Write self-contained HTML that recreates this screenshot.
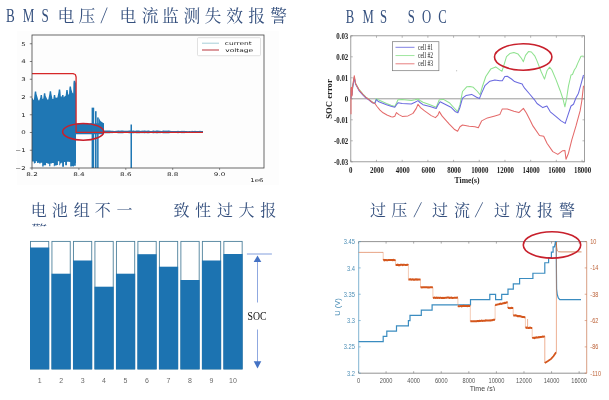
<!DOCTYPE html>
<html lang="zh-CN"><head><meta charset="utf-8"><title>BMS</title>
<style>
html,body{margin:0;padding:0;background:#fff;}
body{width:609px;height:400px;overflow:hidden;position:relative;}
svg{position:absolute;left:0;top:0;display:block;}
.tt{font-family:"Liberation Serif","Noto Serif CJK SC",serif;font-weight:400;fill:#35507e;}
.mp{font-family:"DejaVu Sans","Liberation Sans",sans-serif;fill:#1a1a1a;}
.ml{font-family:"Liberation Serif",serif;font-weight:bold;fill:#222;}
.ar{font-family:"Liberation Sans",sans-serif;}
#ch1,#ch2,#ch4{filter:blur(0.35px);}
#ch3{filter:blur(0.25px);}
</style></head><body>
<svg width="609" height="400" viewBox="0 0 609 400">

<g><text class="tt" font-size="16.8" transform="translate(0,22.1) scale(0.78,1.12)" x="7.69 29.23 53.08">BMS</text><text class="tt" font-size="16.8" y="22.1" x="57.6 78.6">电压</text><text class="tt" font-size="16.8" transform="translate(100.5,23) skewX(-9) scale(1,1.4)">/</text><text class="tt" font-size="16.8" y="22.1" x="119.4 141.8 162 183.5 204.6 226.2 248.3 270.2">电流监测失效报警</text></g>
<g><text class="tt" font-size="16.3" transform="translate(0,23) scale(0.78,1.12)" x="443.33 464.87 487.18 506.41 522.82 541.03 561.92">BMS SOC</text></g>
<g><text class="tt" font-size="16" y="216.2" x="30.7 51.8 73.7 94.8 116.4 173.6 195 217 238.4 260.2">电池组不一致性过大报</text></g>
<g><text class="tt" font-size="16" y="216.2" x="370 391.3">过压</text><text class="tt" font-size="16" transform="translate(413.6,217.1) skewX(-15) scale(1,1.4)">/</text><text class="tt" font-size="16" y="216.2" x="432 454">过流</text><text class="tt" font-size="16" transform="translate(474.8,217.1) skewX(-15) scale(1,1.4)">/</text><text class="tt" font-size="16" y="216.2" x="494 515.2 536.9 559">过放报警</text></g>
<clipPath id="c3"><rect x="28" y="223.4" width="24" height="2.9"/></clipPath>
<g clip-path="url(#c3)"><text class="tt" font-size="16" x="31.2" y="236.8">警</text></g>
<g id="ch1">
<rect x="17" y="31" width="262" height="154" fill="#fdfdfd"/>
<polygon fill="#1f77b4" points="32,98.2 31.6,97.94 32.4,98.08 33.1,99.48 33.9,99.94 34.5,94.1 34.8,91.6 36.2,91.6 36.5,94.1 38.4,100.27 39.2,100.41 40.3,97.4 40.6,94.9 42,94.9 42.3,97.4 42.5,98.95 43.3,98.59 43.6,95.7 43.9,93.2 45.3,93.2 45.6,95.7 47.5,99.87 48.3,99.55 49.4,93.7 49.7,91.2 51.1,91.2 51.4,93.7 52.5,98.94 53.3,98.93 53.5,97.4 53.8,94.9 55.2,94.9 55.5,97.4 56.6,97.86 57.4,97.54 58.5,92.1 58.8,89.6 60.2,89.6 60.5,92.1 60.8,96.4 61.6,96.32 61.8,97.4 62.1,94.9 63.5,94.9 63.8,97.4 64.9,96 65.7,95.74 66,92.4 66.3,89.9 67.7,89.9 68,92.4 68.2,94.44 69,94.58 69.3,89.1 69.6,86.6 71,86.6 71.3,89.1 72.4,92.72 73.2,93.46 73.4,83.3 73.7,80.8 75.1,80.8 75.4,83.3 76,80.5 76,166 76,162.9 75.8,162.9 75.8,165.78 73.95,165.78 73.95,166.56 73.09,166.56 73.09,166.35 71.67,166.35 71.67,166.38 70.19,166.38 70.19,162.11 69.38,162.11 69.38,161.79 68,161.79 68,161.7 66.99,161.7 66.99,165.3 65.13,165.3 65.13,162.08 64,162.08 64,166.73 62.14,166.73 62.14,162.65 61.24,162.65 61.24,163.61 60.14,163.61 60.14,165.26 59.27,165.26 59.27,161.35 57.92,161.35 57.92,165.05 56.65,165.05 56.65,165.57 54.66,165.57 54.66,166.29 53.79,166.29 53.79,162.99 51.86,162.99 51.86,163.52 50.36,163.52 50.36,166.19 49.18,166.19 49.18,163.63 47.47,163.63 47.47,163 46.08,163 46.08,165.3 44.78,165.3 44.78,165.24 43.63,165.24 43.63,166.46 42.2,166.46 42.2,162.72 40.56,162.72 40.56,163.38 39.22,163.38 39.22,162.76 37.91,162.76 37.91,163.04 37.04,163.04 37.04,161.19 35.79,161.19 35.79,162.92 34.77,162.92 34.77,163.45 33.83,163.45 33.83,161.43 32,161.43"/>
<polygon fill="#1f77b4" points="76,132.5 76,123.56 77,123.55 78,123.4 79,123.45 80,123.26 81,123.57 82,123.62 83,123.46 84,123.52 85,123.24 86,123.6 87,122.69 88,123.55 89,123.44 90,123.56 91,123.1 92,123.37 93,123.57 94,123.48 95,123.54 96,123.12 97,123.55 98,123.61 99,123.1 100,123.25 101,123.43 102,123.21 103,123.21 104,123.27 104,124.51 104,134.28 76,134.28"/>
<rect x="91.6" y="107.65" width="2.6" height="60.35" fill="#1f77b4"/>
<rect x="95" y="111.2" width="1.6" height="56.8" fill="#1f77b4"/>
<rect x="97.1" y="117.41" width="1.5" height="50.59" fill="#1f77b4"/>
<polygon fill="#1f77b4" points="98.6,117.41 100.5,120.96 104,123.62 104,132.5 98.6,132.5"/>
<rect x="130.5" y="124.51" width="1.5" height="43.49" fill="#1f77b4"/>
<polygon fill="#1f77b4" points="104,130.85 105,130.49 106,130.38 107,130.46 108,130.49 109,130.48 110,130.53 111,130.85 112,130.67 113,130.77 114,130.97 115,130.97 116,130.82 117,130.83 118,130.56 119,130.4 120,130.71 121,130.41 122,130.38 123,130.4 124,130.76 125,130.85 126,130.85 127,130.87 128,130.86 129,130.6 130,130.43 131,130.47 132,130.69 133,130.59 134,130.49 135,130.94 136,130.58 137,130.43 138,130.51 139,130.53 140,130.69 141,130.88 142,130.5 143,130.78 144,130.49 145,130.39 146,130.75 147,130.74 148,130.4 149,130.54 150,130.89 151,130.91 152,130.9 153,130.43 154,130.49 155,130.9 156,130.48 157,130.38 158,130.58 159,130.77 160,130.65 161,130.91 162,130.98 163,130.39 164,130.59 165,130.66 166,130.41 167,130.72 168,130.45 169,130.48 170,130.86 171,131.04 172,131.02 173,131.05 174,130.88 175,131.04 176,130.96 177,131.1 178,130.72 179,130.99 180,130.94 181,130.88 182,130.72 183,130.96 184,130.71 185,130.92 186,130.9 187,130.91 188,131.16 189,130.95 190,131.08 191,131.17 192,130.77 193,131.08 194,130.93 195,130.81 196,130.89 197,131.01 198,130.91 199,130.89 200,130.78 201,131.12 202,130.89 203,131.05 203,132.96 202,133.04 201,132.92 200,133.1 199,133.04 198,133.03 197,132.98 196,133.04 195,133.09 194,133.02 193,132.94 192,133.11 191,132.89 190,132.94 189,133.01 188,132.9 187,133.03 186,133.04 185,133.03 184,133.14 183,133.01 182,133.14 181,133.05 180,133.02 179,132.99 178,133.14 177,132.93 176,133.01 175,132.96 174,133.05 173,132.96 172,132.97 171,132.96 170,133.06 169,133.27 168,133.29 167,133.14 166,133.31 165,133.17 164,133.21 163,133.32 162,132.99 161,133.03 160,133.18 159,133.11 158,133.21 157,133.32 156,133.27 155,133.04 154,133.26 153,133.3 152,133.04 151,133.03 150,133.05 149,133.24 148,133.31 147,133.13 146,133.12 145,133.32 144,133.26 143,133.1 142,133.26 141,133.05 140,133.15 139,133.24 138,133.26 137,133.3 136,133.21 135,133.02 134,133.26 133,133.21 132,133.15 131,133.28 130,133.3 129,133.2 128,133.06 127,133.06 126,133.07 125,133.06 124,133.11 123,133.31 122,133.33 121,133.31 120,133.14 119,133.31 118,133.22 117,133.08 116,133.08 115,133 114,133 113,133.11 112,133.16 111,133.07 110,133.24 109,133.27 108,133.26 107,133.28 106,133.32 105,133.27 104,133.06"/>
<polyline fill="none" stroke="#d62728" stroke-width="1.3" stroke-linejoin="round" points="32,73.6 73,73.6 75.3,74.5 76.1,77 76.1,132.4 203,132.4"/>
<rect x="32" y="35" width="232" height="133" fill="none" stroke="#444" stroke-width="0.8"/>
<line x1="29.8" x2="32" y1="168" y2="168" stroke="#333" stroke-width="0.6"/>
<text class="mp" font-size="5" text-anchor="end" transform="translate(25.6,169.8) scale(1.4,1)">−2</text>
<line x1="29.8" x2="32" y1="150.25" y2="150.25" stroke="#333" stroke-width="0.6"/>
<text class="mp" font-size="5" text-anchor="end" transform="translate(25.6,152.05) scale(1.4,1)">−1</text>
<line x1="29.8" x2="32" y1="132.5" y2="132.5" stroke="#333" stroke-width="0.6"/>
<text class="mp" font-size="5" text-anchor="end" transform="translate(25.6,134.3) scale(1.4,1)">0</text>
<line x1="29.8" x2="32" y1="114.75" y2="114.75" stroke="#333" stroke-width="0.6"/>
<text class="mp" font-size="5" text-anchor="end" transform="translate(25.6,116.55) scale(1.4,1)">1</text>
<line x1="29.8" x2="32" y1="97" y2="97" stroke="#333" stroke-width="0.6"/>
<text class="mp" font-size="5" text-anchor="end" transform="translate(25.6,98.8) scale(1.4,1)">2</text>
<line x1="29.8" x2="32" y1="79.25" y2="79.25" stroke="#333" stroke-width="0.6"/>
<text class="mp" font-size="5" text-anchor="end" transform="translate(25.6,81.05) scale(1.4,1)">3</text>
<line x1="29.8" x2="32" y1="61.5" y2="61.5" stroke="#333" stroke-width="0.6"/>
<text class="mp" font-size="5" text-anchor="end" transform="translate(25.6,63.3) scale(1.4,1)">4</text>
<line x1="29.8" x2="32" y1="43.75" y2="43.75" stroke="#333" stroke-width="0.6"/>
<text class="mp" font-size="5" text-anchor="end" transform="translate(25.6,45.55) scale(1.4,1)">5</text>
<line x1="32" x2="32" y1="168" y2="170" stroke="#444" stroke-width="0.6"/>
<text class="mp" font-size="5" text-anchor="middle" transform="translate(32,175.8) scale(1.45,1)">8.2</text>
<line x1="78.9" x2="78.9" y1="168" y2="170" stroke="#444" stroke-width="0.6"/>
<text class="mp" font-size="5" text-anchor="middle" transform="translate(78.9,175.8) scale(1.45,1)">8.4</text>
<line x1="125.8" x2="125.8" y1="168" y2="170" stroke="#444" stroke-width="0.6"/>
<text class="mp" font-size="5" text-anchor="middle" transform="translate(125.8,175.8) scale(1.45,1)">8.6</text>
<line x1="172.7" x2="172.7" y1="168" y2="170" stroke="#444" stroke-width="0.6"/>
<text class="mp" font-size="5" text-anchor="middle" transform="translate(172.7,175.8) scale(1.45,1)">8.8</text>
<line x1="219.6" x2="219.6" y1="168" y2="170" stroke="#444" stroke-width="0.6"/>
<text class="mp" font-size="5" text-anchor="middle" transform="translate(219.6,175.8) scale(1.45,1)">9.0</text>
<text class="mp" font-size="5" text-anchor="end" transform="translate(263.5,181.8) scale(1.4,1)">1e6</text>
<rect x="197.5" y="37.7" width="63" height="18" rx="1" fill="#fff" stroke="#ccc" stroke-width="0.6"/>
<line x1="202" x2="219" y1="43.2" y2="43.2" stroke="#7fb9c9" stroke-width="0.7"/>
<line x1="202" x2="219" y1="50" y2="50" stroke="#c0474f" stroke-width="1.1"/>
<text class="mp" font-size="5" transform="translate(224.8,45) scale(1.5,1)">current</text>
<text class="mp" font-size="5" transform="translate(225.2,51.9) scale(1.5,1)">voltage</text>
<ellipse cx="83.2" cy="131.8" rx="20.6" ry="8.4" fill="none" stroke="#c8202c" stroke-width="1.5"/>
</g>
<g id="ch2">
<rect x="350.8" y="35.8" width="233.7" height="126.00000000000001" fill="#fff" stroke="#888" stroke-width="0.8"/>
<line x1="350.8" x2="584.5" y1="98.8" y2="98.8" stroke="#555" stroke-width="0.6"/>
<line x1="350.8" x2="350.8" y1="161.8" y2="159.8" stroke="#888" stroke-width="0.6"/>
<line x1="350.8" x2="350.8" y1="35.8" y2="37.8" stroke="#888" stroke-width="0.6"/>
<text class="ml" font-size="8" text-anchor="middle" transform="translate(350.8,172.6) scale(0.86,1)">0</text>
<line x1="376.49" x2="376.49" y1="161.8" y2="159.8" stroke="#888" stroke-width="0.6"/>
<line x1="376.49" x2="376.49" y1="35.8" y2="37.8" stroke="#888" stroke-width="0.6"/>
<text class="ml" font-size="8" text-anchor="middle" transform="translate(376.99,172.6) scale(0.86,1)">2000</text>
<line x1="402.19" x2="402.19" y1="161.8" y2="159.8" stroke="#888" stroke-width="0.6"/>
<line x1="402.19" x2="402.19" y1="35.8" y2="37.8" stroke="#888" stroke-width="0.6"/>
<text class="ml" font-size="8" text-anchor="middle" transform="translate(402.69,172.6) scale(0.86,1)">4000</text>
<line x1="427.88" x2="427.88" y1="161.8" y2="159.8" stroke="#888" stroke-width="0.6"/>
<line x1="427.88" x2="427.88" y1="35.8" y2="37.8" stroke="#888" stroke-width="0.6"/>
<text class="ml" font-size="8" text-anchor="middle" transform="translate(428.38,172.6) scale(0.86,1)">6000</text>
<line x1="453.58" x2="453.58" y1="161.8" y2="159.8" stroke="#888" stroke-width="0.6"/>
<line x1="453.58" x2="453.58" y1="35.8" y2="37.8" stroke="#888" stroke-width="0.6"/>
<text class="ml" font-size="8" text-anchor="middle" transform="translate(454.08,172.6) scale(0.86,1)">8000</text>
<line x1="479.27" x2="479.27" y1="161.8" y2="159.8" stroke="#888" stroke-width="0.6"/>
<line x1="479.27" x2="479.27" y1="35.8" y2="37.8" stroke="#888" stroke-width="0.6"/>
<text class="ml" font-size="8" text-anchor="middle" transform="translate(479.77,172.6) scale(0.86,1)">10000</text>
<line x1="504.96" x2="504.96" y1="161.8" y2="159.8" stroke="#888" stroke-width="0.6"/>
<line x1="504.96" x2="504.96" y1="35.8" y2="37.8" stroke="#888" stroke-width="0.6"/>
<text class="ml" font-size="8" text-anchor="middle" transform="translate(505.46,172.6) scale(0.86,1)">12000</text>
<line x1="530.66" x2="530.66" y1="161.8" y2="159.8" stroke="#888" stroke-width="0.6"/>
<line x1="530.66" x2="530.66" y1="35.8" y2="37.8" stroke="#888" stroke-width="0.6"/>
<text class="ml" font-size="8" text-anchor="middle" transform="translate(531.16,172.6) scale(0.86,1)">14000</text>
<line x1="556.35" x2="556.35" y1="161.8" y2="159.8" stroke="#888" stroke-width="0.6"/>
<line x1="556.35" x2="556.35" y1="35.8" y2="37.8" stroke="#888" stroke-width="0.6"/>
<text class="ml" font-size="8" text-anchor="middle" transform="translate(556.85,172.6) scale(0.86,1)">16000</text>
<line x1="582.05" x2="582.05" y1="161.8" y2="159.8" stroke="#888" stroke-width="0.6"/>
<line x1="582.05" x2="582.05" y1="35.8" y2="37.8" stroke="#888" stroke-width="0.6"/>
<text class="ml" font-size="8" text-anchor="middle" transform="translate(582.55,172.6) scale(0.86,1)">18000</text>
<line x1="350.8" x2="352.8" y1="161.8" y2="161.8" stroke="#888" stroke-width="0.6"/>
<line x1="584.5" x2="582.5" y1="161.8" y2="161.8" stroke="#888" stroke-width="0.6"/>
<text class="ml" font-size="8" text-anchor="end" transform="translate(348.3,164.5) scale(0.86,1)">-0.03</text>
<line x1="350.8" x2="352.8" y1="140.8" y2="140.8" stroke="#888" stroke-width="0.6"/>
<line x1="584.5" x2="582.5" y1="140.8" y2="140.8" stroke="#888" stroke-width="0.6"/>
<text class="ml" font-size="8" text-anchor="end" transform="translate(348.3,143.5) scale(0.86,1)">-0.02</text>
<line x1="350.8" x2="352.8" y1="119.8" y2="119.8" stroke="#888" stroke-width="0.6"/>
<line x1="584.5" x2="582.5" y1="119.8" y2="119.8" stroke="#888" stroke-width="0.6"/>
<text class="ml" font-size="8" text-anchor="end" transform="translate(348.3,122.5) scale(0.86,1)">-0.01</text>
<line x1="350.8" x2="352.8" y1="98.8" y2="98.8" stroke="#888" stroke-width="0.6"/>
<line x1="584.5" x2="582.5" y1="98.8" y2="98.8" stroke="#888" stroke-width="0.6"/>
<text class="ml" font-size="8" text-anchor="end" transform="translate(348.3,101.5) scale(0.86,1)">0</text>
<line x1="350.8" x2="352.8" y1="77.8" y2="77.8" stroke="#888" stroke-width="0.6"/>
<line x1="584.5" x2="582.5" y1="77.8" y2="77.8" stroke="#888" stroke-width="0.6"/>
<text class="ml" font-size="8" text-anchor="end" transform="translate(348.3,80.5) scale(0.86,1)">0.01</text>
<line x1="350.8" x2="352.8" y1="56.8" y2="56.8" stroke="#888" stroke-width="0.6"/>
<line x1="584.5" x2="582.5" y1="56.8" y2="56.8" stroke="#888" stroke-width="0.6"/>
<text class="ml" font-size="8" text-anchor="end" transform="translate(348.3,59.5) scale(0.86,1)">0.02</text>
<line x1="350.8" x2="352.8" y1="35.8" y2="35.8" stroke="#888" stroke-width="0.6"/>
<line x1="584.5" x2="582.5" y1="35.8" y2="35.8" stroke="#888" stroke-width="0.6"/>
<text class="ml" font-size="8" text-anchor="end" transform="translate(348.3,38.5) scale(0.86,1)">0.03</text>
<text class="ml" font-size="8.5" text-anchor="middle" transform="translate(467,183.3) scale(0.9,1)">Time(s)</text>
<text class="ml" font-size="8.5" text-anchor="middle" transform="translate(331.6,99) rotate(-90) scale(1.02,1)">SOC error</text>
<polyline fill="none" stroke="#8fe28f" stroke-width="1.05" stroke-linejoin="round" points="351,98.8 351.3,90 352,95 352.6,88 354.3,77 355.5,83 359,89.4 363,94.1 366,97.1 368.1,98.6 371.5,101.4 373,102.4 374.9,102.8 376.2,98.6 378.2,99.8 386.5,103.4 391,105.2 394.8,106.4 396.5,103 398,99.8 402.2,99.4 411.3,100.6 415,99.8 418,98.9 420,100.5 423,102.2 430,104.8 436.2,107.2 438,103 439.3,99.8 443.5,99.4 449.3,102.7 454.2,108 457.6,111.7 460,104.7 462.5,91.5 466.7,86.8 470,86.5 473.3,87.3 477.5,91.5 480,94.8 482.4,86.5 485.8,76.5 490.7,69.1 495.7,66.9 499.8,69.9 502,71.2 504,64.9 506.5,56.6 509.8,53.6 513.9,52.5 518.1,54.1 521.4,58.3 523.4,61.7 525.5,55.3 528.5,51.6 531.4,52 534.7,55.8 537,60.9 541.2,71.7 544.5,79.1 547,70.8 549.5,67.2 551.9,70 556.1,79.9 560.2,90.7 563,99 564.9,106.8 566.5,99 568.5,85.8 571,75 572.5,74.5 574.3,70 576,67.5 577.7,63.4 581,56.2 583.5,55.9"/>
<polyline fill="none" stroke="#6a6adf" stroke-width="1.05" stroke-linejoin="round" points="351,98.8 351.3,90 352,95 352.6,88 354.3,77.5 355.5,84 359,90.6 363,95.2 366,98 368.1,99.4 371.5,102 373,103 374.9,103.4 376.4,99.5 378.2,101.5 386.5,104.7 391,106.3 394.8,107.2 396.5,104.8 398,102.7 402.2,103.4 411.3,103.9 415,102.2 418,100.6 420,102.5 423,104.7 430,106.5 436.2,108.4 438,105 440.1,101.7 446,104.7 450.9,107.2 455.1,111.4 457.9,112.7 460,107.2 462.5,98.1 465.9,95.6 471.7,94.4 476.6,97.3 479.4,98.6 481.6,93.1 484.9,85.7 489.9,81.2 494.9,79.9 499.8,80.7 502.3,80.7 504.8,76.5 507.3,76.2 511.5,79 514.6,81.6 517.3,82.5 522.2,84.1 523.2,86 524.6,88.2 529.6,94 534.5,99.8 537,103.5 542.8,107.6 546.9,106 550.3,111.8 556.1,116.7 561.1,120.9 565.2,123.4 567.7,115.9 571,106 573.5,104.3 576,97.7 578.5,93.2 581,84.1 583.5,75"/>
<polyline fill="none" stroke="#e46a6a" stroke-width="1.05" stroke-linejoin="round" points="351,114.2 351,88 351.6,87.3 352,96 352.6,86 354.3,75.7 355.5,83.5 359,89.8 363,94.5 366,97.5 368.1,98.9 371.5,101.7 373,102.7 374.7,103.3 377,106.5 380,110.1 383.1,112.8 387,115 391.2,116.7 392.8,117 394.8,116.2 396.4,112.6 398.9,114.6 402.2,116.4 408,115.9 413,113.4 416.3,108.4 418,104.3 420.5,107.6 424.6,110.9 431.2,115.6 435.4,117.6 437.9,115.1 439.3,111.6 442,115.9 443.5,117.6 449.3,124.2 454.2,129.2 457.6,131.2 460,126.7 462.5,125 469.2,126.2 475,126.7 478.3,127.8 481.6,120.9 487.4,117.9 494.9,115.9 499.8,114.6 502.3,108.9 507.3,108.9 513.9,111.3 518.9,112.6 523.4,108.4 526.4,113 530.5,120.9 532.9,125.9 539.5,135.5 543.7,136.3 547,143.3 552.8,151.6 557.8,154.4 562.7,150.7 564.9,150.4 566,159.3 568.5,153.2 571.8,139.9 576,125.9 580.1,110.9 581.8,101 583.5,85.8"/>
<rect x="392.6" y="41.7" width="46.3" height="29" fill="#fff" stroke="#777" stroke-width="0.7"/>
<line x1="395.5" x2="414.5" y1="47.3" y2="47.3" stroke="#6a6adf" stroke-width="1" opacity="0.85"/>
<text font-family="Liberation Serif,serif" font-size="7.4" fill="#222" transform="translate(418,49.5) scale(0.75,1)">cell #1</text>
<line x1="395.5" x2="414.5" y1="55.55" y2="55.55" stroke="#8fe28f" stroke-width="1" opacity="0.85"/>
<text font-family="Liberation Serif,serif" font-size="7.4" fill="#222" transform="translate(418,57.75) scale(0.75,1)">cell #2</text>
<line x1="395.5" x2="414.5" y1="63.8" y2="63.8" stroke="#e46a6a" stroke-width="1" opacity="0.85"/>
<text font-family="Liberation Serif,serif" font-size="7.4" fill="#222" transform="translate(418,66) scale(0.75,1)">cell #3</text>
<circle cx="456.7" cy="70.7" r="0.5" fill="#999"/>
<ellipse cx="523.2" cy="57" rx="28.7" ry="13.2" fill="none" stroke="#c8202c" stroke-width="1.6"/>
</g>
<g id="ch3">
<rect x="30.45" y="241.4" width="18.3" height="127.6" fill="#fff" stroke="#4d809c" stroke-width="0.9"/>
<rect x="30" y="247.5" width="19.2" height="121.8" fill="#1c73b1"/>
<text class="ar" font-size="7" fill="#6a6a6a" text-anchor="middle" x="39.6" y="382.7">1</text>
<rect x="51.94" y="241.4" width="18.3" height="127.6" fill="#fff" stroke="#4d809c" stroke-width="0.9"/>
<rect x="51.49" y="273.7" width="19.2" height="95.6" fill="#1c73b1"/>
<text class="ar" font-size="7" fill="#6a6a6a" text-anchor="middle" x="61.09" y="382.7">2</text>
<rect x="73.43" y="241.4" width="18.3" height="127.6" fill="#fff" stroke="#4d809c" stroke-width="0.9"/>
<rect x="72.98" y="260.5" width="19.2" height="108.8" fill="#1c73b1"/>
<text class="ar" font-size="7" fill="#6a6a6a" text-anchor="middle" x="82.58" y="382.7">3</text>
<rect x="94.92" y="241.4" width="18.3" height="127.6" fill="#fff" stroke="#4d809c" stroke-width="0.9"/>
<rect x="94.47" y="286.7" width="19.2" height="82.6" fill="#1c73b1"/>
<text class="ar" font-size="7" fill="#6a6a6a" text-anchor="middle" x="104.07" y="382.7">4</text>
<rect x="116.41" y="241.4" width="18.3" height="127.6" fill="#fff" stroke="#4d809c" stroke-width="0.9"/>
<rect x="115.96" y="273.7" width="19.2" height="95.6" fill="#1c73b1"/>
<text class="ar" font-size="7" fill="#6a6a6a" text-anchor="middle" x="125.56" y="382.7">5</text>
<rect x="137.9" y="241.4" width="18.3" height="127.6" fill="#fff" stroke="#4d809c" stroke-width="0.9"/>
<rect x="137.45" y="254.2" width="19.2" height="115.1" fill="#1c73b1"/>
<text class="ar" font-size="7" fill="#6a6a6a" text-anchor="middle" x="147.05" y="382.7">6</text>
<rect x="159.39" y="241.4" width="18.3" height="127.6" fill="#fff" stroke="#4d809c" stroke-width="0.9"/>
<rect x="158.94" y="266.7" width="19.2" height="102.6" fill="#1c73b1"/>
<text class="ar" font-size="7" fill="#6a6a6a" text-anchor="middle" x="168.54" y="382.7">7</text>
<rect x="180.88" y="241.4" width="18.3" height="127.6" fill="#fff" stroke="#4d809c" stroke-width="0.9"/>
<rect x="180.43" y="280" width="19.2" height="89.3" fill="#1c73b1"/>
<text class="ar" font-size="7" fill="#6a6a6a" text-anchor="middle" x="190.03" y="382.7">8</text>
<rect x="202.37" y="241.4" width="18.3" height="127.6" fill="#fff" stroke="#4d809c" stroke-width="0.9"/>
<rect x="201.92" y="260.5" width="19.2" height="108.8" fill="#1c73b1"/>
<text class="ar" font-size="7" fill="#6a6a6a" text-anchor="middle" x="211.52" y="382.7">9</text>
<rect x="223.86" y="241.4" width="18.3" height="127.6" fill="#fff" stroke="#4d809c" stroke-width="0.9"/>
<rect x="223.41" y="254" width="19.2" height="115.3" fill="#1c73b1"/>
<text class="ar" font-size="7" fill="#6a6a6a" text-anchor="middle" x="233.01" y="382.7">10</text>
<line x1="246.9" x2="271.9" y1="254" y2="254" stroke="#8fa8e0" stroke-width="1.1"/>
<line x1="257.5" x2="257.5" y1="260" y2="302.5" stroke="#8fa8e0" stroke-width="1"/>
<line x1="257.5" x2="257.5" y1="329.5" y2="362" stroke="#8fa8e0" stroke-width="1"/>
<polygon fill="#4472c4" points="257.5,255.4 253.7,262 261.3,262"/>
<polygon fill="#4472c4" points="257.5,368.4 253.7,361.2 261.3,361.2"/>
<text font-family="Liberation Serif,Noto Serif CJK SC,serif" font-size="13.2" fill="#111" transform="translate(247.5,320) scale(0.74,1)">SOC</text>
</g>
<g id="ch4">
<rect x="358.7" y="241.6" width="228.00000000000006" height="131.6" fill="#fff"/>
<line x1="358.7" x2="586.7" y1="241.6" y2="241.6" stroke="#666" stroke-width="0.7"/>
<line x1="358.7" x2="586.7" y1="373.2" y2="373.2" stroke="#777" stroke-width="0.8"/>
<line x1="358.7" x2="358.7" y1="241.6" y2="373.2" stroke="#4a93bd" stroke-width="0.7"/>
<line x1="586.7" x2="586.7" y1="241.6" y2="373.2" stroke="#c9764f" stroke-width="0.7"/>
<line x1="358.5" x2="358.5" y1="373.2" y2="371.2" stroke="#777" stroke-width="0.6"/>
<line x1="358.5" x2="358.5" y1="241.6" y2="243.6" stroke="#777" stroke-width="0.6"/>
<text class="ar" font-size="6.6" fill="#555" text-anchor="middle" transform="translate(358.5,383.2) scale(0.86,1)">0</text>
<line x1="386.08" x2="386.08" y1="373.2" y2="371.2" stroke="#777" stroke-width="0.6"/>
<line x1="386.08" x2="386.08" y1="241.6" y2="243.6" stroke="#777" stroke-width="0.6"/>
<text class="ar" font-size="6.6" fill="#555" text-anchor="middle" transform="translate(386.08,383.2) scale(0.86,1)">2000</text>
<line x1="413.66" x2="413.66" y1="373.2" y2="371.2" stroke="#777" stroke-width="0.6"/>
<line x1="413.66" x2="413.66" y1="241.6" y2="243.6" stroke="#777" stroke-width="0.6"/>
<text class="ar" font-size="6.6" fill="#555" text-anchor="middle" transform="translate(413.66,383.2) scale(0.86,1)">4000</text>
<line x1="441.24" x2="441.24" y1="373.2" y2="371.2" stroke="#777" stroke-width="0.6"/>
<line x1="441.24" x2="441.24" y1="241.6" y2="243.6" stroke="#777" stroke-width="0.6"/>
<text class="ar" font-size="6.6" fill="#555" text-anchor="middle" transform="translate(441.24,383.2) scale(0.86,1)">6000</text>
<line x1="468.82" x2="468.82" y1="373.2" y2="371.2" stroke="#777" stroke-width="0.6"/>
<line x1="468.82" x2="468.82" y1="241.6" y2="243.6" stroke="#777" stroke-width="0.6"/>
<text class="ar" font-size="6.6" fill="#555" text-anchor="middle" transform="translate(468.82,383.2) scale(0.86,1)">8000</text>
<line x1="496.4" x2="496.4" y1="373.2" y2="371.2" stroke="#777" stroke-width="0.6"/>
<line x1="496.4" x2="496.4" y1="241.6" y2="243.6" stroke="#777" stroke-width="0.6"/>
<text class="ar" font-size="6.6" fill="#555" text-anchor="middle" transform="translate(496.4,383.2) scale(0.86,1)">10000</text>
<line x1="523.98" x2="523.98" y1="373.2" y2="371.2" stroke="#777" stroke-width="0.6"/>
<line x1="523.98" x2="523.98" y1="241.6" y2="243.6" stroke="#777" stroke-width="0.6"/>
<text class="ar" font-size="6.6" fill="#555" text-anchor="middle" transform="translate(523.98,383.2) scale(0.86,1)">12000</text>
<line x1="551.56" x2="551.56" y1="373.2" y2="371.2" stroke="#777" stroke-width="0.6"/>
<line x1="551.56" x2="551.56" y1="241.6" y2="243.6" stroke="#777" stroke-width="0.6"/>
<text class="ar" font-size="6.6" fill="#555" text-anchor="middle" transform="translate(551.56,383.2) scale(0.86,1)">14000</text>
<line x1="579.14" x2="579.14" y1="373.2" y2="371.2" stroke="#777" stroke-width="0.6"/>
<line x1="579.14" x2="579.14" y1="241.6" y2="243.6" stroke="#777" stroke-width="0.6"/>
<text class="ar" font-size="6.6" fill="#555" text-anchor="middle" transform="translate(579.14,383.2) scale(0.86,1)">16000</text>
<line x1="358.7" x2="360.7" y1="241.6" y2="241.6" stroke="#4a93bd" stroke-width="0.6"/>
<line x1="586.7" x2="584.7" y1="241.6" y2="241.6" stroke="#c9764f" stroke-width="0.6"/>
<text class="ar" font-size="7.2" fill="#4a8db5" text-anchor="end" transform="translate(355,244.2) scale(0.8,1)">3.45</text>
<text class="ar" font-size="6.6" fill="#bd6238" transform="translate(590.3,244) scale(0.84,1)">10</text>
<line x1="358.7" x2="360.7" y1="267.92" y2="267.92" stroke="#4a93bd" stroke-width="0.6"/>
<line x1="586.7" x2="584.7" y1="267.92" y2="267.92" stroke="#c9764f" stroke-width="0.6"/>
<text class="ar" font-size="7.2" fill="#4a8db5" text-anchor="end" transform="translate(355,270.52) scale(0.8,1)">3.4</text>
<text class="ar" font-size="6.6" fill="#bd6238" transform="translate(590.3,270.32) scale(0.84,1)">-14</text>
<line x1="358.7" x2="360.7" y1="294.24" y2="294.24" stroke="#4a93bd" stroke-width="0.6"/>
<line x1="586.7" x2="584.7" y1="294.24" y2="294.24" stroke="#c9764f" stroke-width="0.6"/>
<text class="ar" font-size="7.2" fill="#4a8db5" text-anchor="end" transform="translate(355,296.84) scale(0.8,1)">3.35</text>
<text class="ar" font-size="6.6" fill="#bd6238" transform="translate(590.3,296.64) scale(0.84,1)">-38</text>
<line x1="358.7" x2="360.7" y1="320.56" y2="320.56" stroke="#4a93bd" stroke-width="0.6"/>
<line x1="586.7" x2="584.7" y1="320.56" y2="320.56" stroke="#c9764f" stroke-width="0.6"/>
<text class="ar" font-size="7.2" fill="#4a8db5" text-anchor="end" transform="translate(355,323.16) scale(0.8,1)">3.3</text>
<text class="ar" font-size="6.6" fill="#bd6238" transform="translate(590.3,322.96) scale(0.84,1)">-62</text>
<line x1="358.7" x2="360.7" y1="346.88" y2="346.88" stroke="#4a93bd" stroke-width="0.6"/>
<line x1="586.7" x2="584.7" y1="346.88" y2="346.88" stroke="#c9764f" stroke-width="0.6"/>
<text class="ar" font-size="7.2" fill="#4a8db5" text-anchor="end" transform="translate(355,349.48) scale(0.8,1)">3.25</text>
<text class="ar" font-size="6.6" fill="#bd6238" transform="translate(590.3,349.28) scale(0.84,1)">-86</text>
<line x1="358.7" x2="360.7" y1="373.2" y2="373.2" stroke="#4a93bd" stroke-width="0.6"/>
<line x1="586.7" x2="584.7" y1="373.2" y2="373.2" stroke="#c9764f" stroke-width="0.6"/>
<text class="ar" font-size="7.2" fill="#4a8db5" text-anchor="end" transform="translate(355,375.8) scale(0.8,1)">3.2</text>
<text class="ar" font-size="6.6" fill="#bd6238" transform="translate(590.3,375.6) scale(0.84,1)">-110</text>
<text class="ar" font-size="7" fill="#4a8db5" text-anchor="middle" transform="translate(339.5,307) rotate(-90) scale(1.08,1)">U (V)</text>
<clipPath id="c4"><rect x="460" y="380" width="50" height="10.9"/></clipPath>
<g clip-path="url(#c4)"><text class="ar" font-size="7" fill="#444" text-anchor="middle" x="482.5" y="391.4">Time (s)</text></g>
<polyline fill="none" stroke="#3a8cc0" stroke-width="1.2" stroke-linejoin="miter" points="358.7,341.64 383.2,341.64 383.2,336.38 386.8,336.38 386.8,331.12 396.5,331.12 396.5,325.86 408.4,325.86 408.4,320.6 410,320.6 410,315.34 421.3,315.34 421.3,310.08 432.1,310.08 432.1,304.82 470.5,304.82 470.5,299.56 489.8,299.56 489.8,294.3 495.6,294.3 495.6,299.56 501.7,299.56 501.7,294.3 508,294.3 508,289.04 513.3,289.04 513.3,283.78 519.6,283.78 519.6,278.52 532.9,278.52 532.9,273.26 544.8,273.26 544.8,262.74 548.6,262.74 548.6,257.48 551.4,257.48 551.4,252.22 553.1,252.22 553.1,246.96 554.5,246.96 555.5,241.7 556.2,241.7 556.4,268 556.6,289.04 557.2,294.3 558.3,297.98 559.8,299.56 581,299.56"/>
<line x1="383.2" x2="383.2" y1="252.4" y2="260.1" stroke="#e8946a" stroke-width="0.5"/>
<line x1="395.6" x2="395.6" y1="260.1" y2="264.9" stroke="#e8946a" stroke-width="0.5"/>
<line x1="408.4" x2="408.4" y1="264.9" y2="279.5" stroke="#e8946a" stroke-width="0.5"/>
<line x1="420.5" x2="420.5" y1="279.5" y2="287.4" stroke="#e8946a" stroke-width="0.5"/>
<line x1="432.9" x2="432.9" y1="287.4" y2="297.8" stroke="#e8946a" stroke-width="0.5"/>
<line x1="457.9" x2="457.9" y1="297.8" y2="306.1" stroke="#e8946a" stroke-width="0.5"/>
<line x1="470.3" x2="470.3" y1="306.1" y2="321.5" stroke="#e8946a" stroke-width="0.5"/>
<line x1="495.1" x2="495.1" y1="319.9" y2="304.9" stroke="#e8946a" stroke-width="0.5"/>
<line x1="507.7" x2="507.7" y1="302.4" y2="307.9" stroke="#e8946a" stroke-width="0.5"/>
<line x1="513.2" x2="513.2" y1="307.9" y2="315.2" stroke="#e8946a" stroke-width="0.5"/>
<line x1="525.4" x2="525.4" y1="317.4" y2="327.8" stroke="#e8946a" stroke-width="0.5"/>
<line x1="532.2" x2="532.2" y1="327.8" y2="338.1" stroke="#e8946a" stroke-width="0.5"/>
<polyline fill="none" stroke="#d4561c" stroke-width="0.6" points="358.7,252.4 359.4,252.4 360.1,252.4 360.8,252.4 361.5,252.4 362.2,252.4 362.9,252.4 363.6,252.4 364.3,252.4 365,252.4 365.7,252.4 366.4,252.4 367.1,252.4 367.8,252.4 368.5,252.4 369.2,252.4 369.9,252.4 370.6,252.4 371.3,252.4 372,252.4 372.7,252.4 373.4,252.4 374.1,252.4 374.8,252.4 375.5,252.4 376.2,252.4 376.9,252.4 377.6,252.4 378.3,252.4 379,252.4 379.7,252.4 380.4,252.4 381.1,252.4 381.8,252.4 382.5,252.4 383.2,252.4"/>
<polyline fill="none" stroke="#d4561c" stroke-width="2.0" points="383.2,260.33 383.93,259.96 384.66,260.33 385.39,260.05 386.12,260.09 386.85,260.34 387.58,260.27 388.31,259.93 389.04,260.07 389.76,260.11 390.49,260.02 391.22,259.95 391.95,260.01 392.68,260.21 393.41,259.86 394.14,260.13 394.87,260.07 395.6,259.86"/>
<polyline fill="none" stroke="#d4561c" stroke-width="2.0" points="395.6,264.82 396.31,264.96 397.02,264.91 397.73,264.68 398.44,265.14 399.16,265.04 399.87,265.14 400.58,264.7 401.29,264.78 402,264.67 402.71,265.04 403.42,264.79 404.13,264.71 404.84,264.86 405.56,265.11 406.27,265.06 406.98,264.78 407.69,264.72 408.4,265.11"/>
<polyline fill="none" stroke="#d4561c" stroke-width="2.0" points="408.4,279.54 409.11,279.6 409.82,279.29 410.54,279.28 411.25,279.59 411.96,279.46 412.67,279.29 413.38,279.72 414.09,279.57 414.81,279.65 415.52,279.29 416.23,279.68 416.94,279.28 417.65,279.68 418.36,279.48 419.08,279.42 419.79,279.53 420.5,279.71"/>
<polyline fill="none" stroke="#d4561c" stroke-width="2.0" points="420.5,287.28 421.23,287.21 421.96,287.41 422.69,287.27 423.42,287.2 424.15,287.23 424.88,287.18 425.61,287.25 426.34,287.31 427.06,287.3 427.79,287.53 428.52,287.29 429.25,287.4 429.98,287.24 430.71,287.32 431.44,287.16 432.17,287.28 432.9,287.16"/>
<polyline fill="none" stroke="#d4561c" stroke-width="2.0" points="432.9,297.92 433.61,297.83 434.33,297.64 435.04,297.79 435.76,298.02 436.47,297.6 437.19,297.96 437.9,297.77 438.61,297.8 439.33,297.97 440.04,297.75 440.76,297.8 441.47,297.89 442.19,298.04 442.9,297.72 443.61,297.97 444.33,297.9 445.04,297.87 445.76,297.75 446.47,297.72 447.19,297.58 447.9,297.61 448.61,297.59 449.33,297.92 450.04,297.68 450.76,297.63 451.47,297.59 452.19,297.97 452.9,297.99 453.61,297.89 454.33,297.69 455.04,297.67 455.76,297.7 456.47,297.78 457.19,297.63 457.9,297.77"/>
<polyline fill="none" stroke="#d4561c" stroke-width="2.0" points="457.9,305.98 458.63,306.33 459.36,306.34 460.09,306.12 460.82,305.97 461.55,306.33 462.28,306 463.01,306.03 463.74,305.85 464.46,306.04 465.19,306.09 465.92,306.1 466.65,305.95 467.38,306.1 468.11,305.85 468.84,305.98 469.57,305.89 470.3,306.05"/>
<polyline fill="none" stroke="#d4561c" stroke-width="2.0" points="470.3,321.27 471.01,321.22 471.72,321.31 472.43,321.23 473.13,321.36 473.84,321.29 474.55,321.35 475.26,321.26 475.97,321.24 476.68,321.28 477.39,320.99 478.09,320.91 478.8,321.19 479.51,320.73 480.22,320.97 480.93,320.89 481.64,320.54 482.35,320.89 483.05,320.87 483.76,320.7 484.47,320.7 485.18,320.7 485.89,320.31 486.6,320.46 487.31,320.41 488.01,320.52 488.72,320.46 489.43,320.43 490.14,320.26 490.85,320.37 491.56,320.22 492.27,320.18 492.97,319.9 493.68,319.76 494.39,319.76 495.1,319.83"/>
<polyline fill="none" stroke="#d4561c" stroke-width="2.0" points="495.1,304.7 495.84,304.92 496.58,304.64 497.32,304.52 498.06,304.37 498.81,304.26 499.55,304.01 500.29,303.62 501.03,303.87 501.77,303.7 502.51,303.43 503.25,303.3 503.99,303.21 504.74,302.77 505.48,302.96 506.22,302.57 506.96,302.33 507.7,302.28"/>
<polyline fill="none" stroke="#d4561c" stroke-width="2.0" points="507.7,308.01 508.49,307.75 509.27,308.02 510.06,308.14 510.84,307.9 511.63,307.84 512.41,307.89 513.2,307.99"/>
<polyline fill="none" stroke="#d4561c" stroke-width="2.0" points="513.2,315.33 513.92,315.39 514.64,315.53 515.35,315.38 516.07,315.54 516.79,315.72 517.51,316.1 518.22,316.01 518.94,316.27 519.66,316.12 520.38,316.27 521.09,316.51 521.81,316.84 522.53,316.98 523.25,317.1 523.96,317.04 524.68,317.28 525.4,317.38"/>
<polyline fill="none" stroke="#d4561c" stroke-width="2.0" points="525.4,327.78 526.16,327.61 526.91,328 527.67,327.65 528.42,328.04 529.18,328.02 529.93,327.56 530.69,327.78 531.44,327.96 532.2,328.03"/>
<polyline fill="none" stroke="#d4561c" stroke-width="2.0" points="532.2,338.07 532.94,337.88 533.68,337.75 534.42,338.02 535.16,337.56 535.91,337.64 536.65,337.32 537.39,337.41 538.13,337.53 538.87,337.02 539.61,337.26 540.35,337 541.09,337.09 541.84,336.9 542.58,336.57 543.32,336.8 544.06,336.49 544.8,336.16"/>
<line x1="527.6" x2="527.6" y1="319" y2="328" stroke="#e07a4a" stroke-width="0.6"/>
<line x1="544.8" x2="544.8" y1="336.4" y2="363" stroke="#e07a4a" stroke-width="0.6"/>
<polyline fill="none" stroke="#d4561c" stroke-width="1.8" points="544.8,363 548,361 551.1,358.9 553.6,356 556.1,352.2"/>
<line x1="556.4" x2="556.4" y1="352.2" y2="242" stroke="#e07a4a" stroke-width="0.6"/>
<polyline fill="none" stroke="#c9703f" stroke-width="0.8" points="556.4,242 556.6,247 557.2,250.5 558.5,251.7 561,251.9 581.5,251.9"/>
<ellipse cx="552" cy="244.9" rx="28.7" ry="13.2" fill="none" stroke="#c8202c" stroke-width="1.6"/>
</g>
</svg>
</body></html>
